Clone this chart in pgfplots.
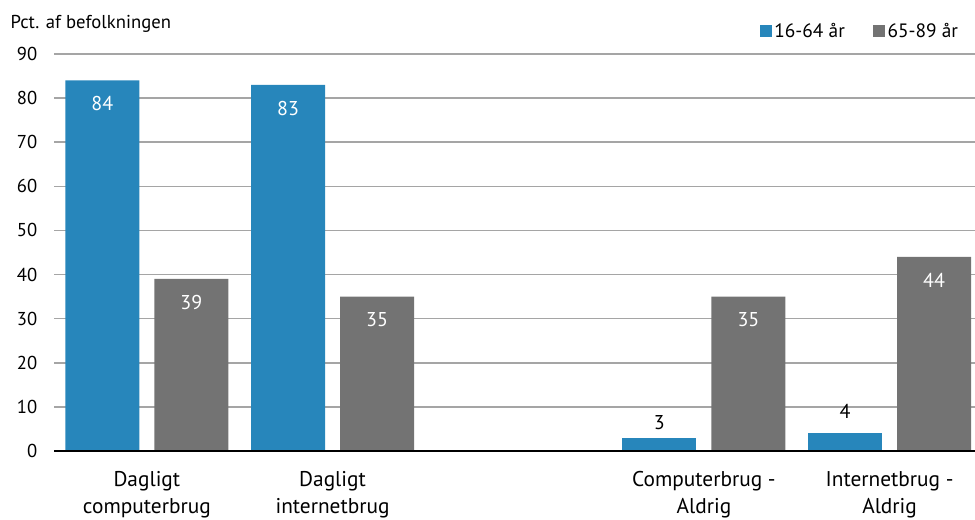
\documentclass[border=0pt]{standalone}
\usepackage{pgfplots}
\pgfplotsset{compat=1.18}
\usepackage{fontspec}
\setmainfont{PT Sans}
\definecolor{cblue}{RGB}{39,134,187}
\definecolor{cgrey}{RGB}{115,115,115}
\definecolor{cgrid}{RGB}{165,165,165}
\begin{document}
\begin{tikzpicture}
\useasboundingbox (0,0) rectangle (731.25pt,390pt);
\begin{axis}[
  at={(40.5pt,51.75pt)}, anchor=south west,
  scale only axis,
  width=690.75pt, height=297.75pt,
  xmin=-0.5, xmax=4.46, ymin=0, ymax=90,
  ybar, bar width=55.5pt,
  axis line style={draw=none},
  ytick={0,10,...,90},
  xtick={0,1,3,4},
  xticklabels={{Dagligt\\computerbrug},{Dagligt\\internetbrug},{Computerbrug -\\Aldrig},{Internetbrug -\\Aldrig}},
  xticklabel style={align=center, font=\fontsize{16}{20}\selectfont, yshift=-12pt},
  yticklabel style={font=\fontsize{14}{16}\selectfont, xshift=-9pt},
  major tick length=0pt,
  /pgf/number format/assume math mode=true,
  ymajorgrids, grid style={cgrid, line width=1.1pt},
  legend style={at={(rel axis cs:0.989,1.058)}, anchor=east, draw=none, fill=none,
     legend columns=2, font=\fontsize{14.5}{16}\selectfont,
     /tikz/every even column/.append style={column sep=19pt}},
  legend image code/.code={\fill[#1] (0pt,-4.5pt) rectangle (9pt,4.5pt);},
  nodes near coords,
  every node near coord/.append style={font=\fontsize{15}{16}\selectfont, anchor=center},
  title={Pct. af befolkningen},
  title style={at={(rel axis cs:-0.0475,1.055)}, anchor=west, font=\fontsize{14}{16}\selectfont, inner sep=0pt},
  clip=false,
]
\addplot[fill=cblue, draw=none, bar shift=-33.375pt,
  every node near coord/.append style={white, yshift=-17.6pt}]
  coordinates {(0,84) (1,83)};
\addlegendentry{16-64 år}
\addplot[fill=cgrey, draw=none, bar shift=33.375pt,
  every node near coord/.append style={white, yshift=-17.6pt}]
  coordinates {(0,39) (1,35) (3,35) (4,44)};
\addlegendentry{65-89 år}
\addplot[fill=cblue, draw=none, bar shift=-33.375pt, forget plot,
  every node near coord/.append style={black, yshift=11.5pt}]
  coordinates {(3,3)};
\addplot[fill=cblue, draw=none, bar shift=-33.375pt, forget plot,
  every node near coord/.append style={black, yshift=16.5pt}]
  coordinates {(4,4)};
\draw[black, line width=2pt] (rel axis cs:0,0) -- (rel axis cs:1,0);
\end{axis}
\end{tikzpicture}
\end{document}
